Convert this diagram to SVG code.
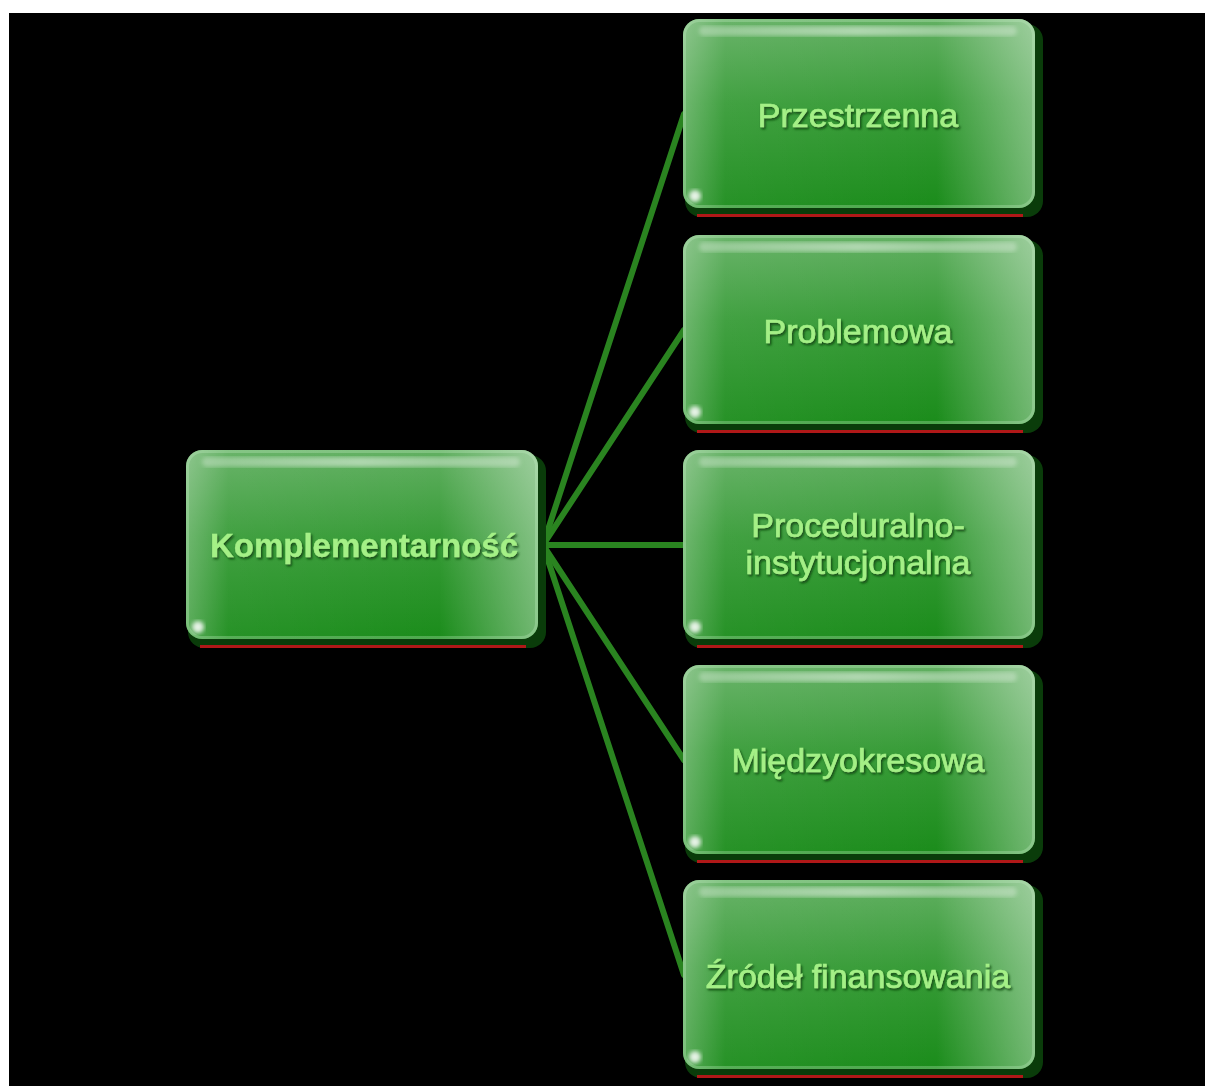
<svg xmlns="http://www.w3.org/2000/svg" width="1205" height="1086" viewBox="0 0 1205 1086">
<defs>
<linearGradient id="gv" x1="0" y1="0" x2="0" y2="1">
<stop offset="0" stop-color="#62b062"/>
<stop offset="0.45" stop-color="#389c38"/>
<stop offset="1" stop-color="#1b8c1b"/>
</linearGradient>
<linearGradient id="gh" x1="0" y1="0" x2="1" y2="0">
<stop offset="0" stop-color="#ffffff" stop-opacity="0.28"/>
<stop offset="0.12" stop-color="#ffffff" stop-opacity="0.05"/>
<stop offset="0.72" stop-color="#ffffff" stop-opacity="0"/>
<stop offset="1" stop-color="#ffffff" stop-opacity="0.38"/>
</linearGradient>
<linearGradient id="gloss" x1="0" y1="0" x2="1" y2="0">
<stop offset="0" stop-color="#ffffff" stop-opacity="0.3"/>
<stop offset="0.5" stop-color="#ffffff" stop-opacity="0.5"/>
<stop offset="1" stop-color="#ffffff" stop-opacity="0.3"/>
</linearGradient>
<filter id="ts" x="-10%" y="-30%" width="120%" height="160%">
<feDropShadow dx="1.5" dy="2" stdDeviation="1" flood-color="#0b3f0b" flood-opacity="0.85"/>
</filter>
<filter id="blur2"><feGaussianBlur stdDeviation="2"/></filter>
<g id="box">
<rect x="2" y="5" width="358" height="193" rx="16" fill="#0a3c0a"/>
<rect x="14" y="195" width="326" height="3" fill="#b01818"/>
<rect x="0" y="0" width="352" height="189" rx="16" fill="url(#gv)"/>
<rect x="0" y="0" width="352" height="189" rx="16" fill="url(#gh)"/>
<rect x="16" y="7" width="318" height="10" rx="5" fill="url(#gloss)" filter="url(#blur2)"/>
<rect x="1.5" y="1.5" width="349" height="186" rx="15" fill="none" stroke="#c8efc8" stroke-opacity="0.3" stroke-width="3"/>
<path d="M347 20 L347 170" stroke="#ffffff" stroke-opacity="0.7" stroke-width="4" filter="url(#blur2)"/>
<circle cx="12" cy="177" r="6" fill="#ffffff" fill-opacity="0.85" filter="url(#blur2)"/>
</g>
</defs>
<style>
.lbl{font-family:"Liberation Sans",Arial,sans-serif;font-size:34px;fill:#a4f086;stroke:#a4f086;stroke-width:0.7;text-anchor:middle;filter:url(#ts)}
.b{font-weight:bold;font-size:33px;stroke-width:0.3}
.con line{stroke:#2a8420;stroke-width:6;stroke-linecap:round}
</style>
<rect x="0" y="0" width="1205" height="1086" fill="#ffffff"/>
<rect x="9" y="13" width="1196" height="1073" fill="#000000"/>
<g id="connectors" class="con">
<line x1="543" y1="545" x2="684" y2="114"/>
<line x1="543" y1="545" x2="684" y2="330"/>
<line x1="543" y1="545" x2="684" y2="545"/>
<line x1="543" y1="545" x2="684" y2="760"/>
<line x1="543" y1="545" x2="684" y2="975"/>
</g>
<g id="n-komplementarnosc">
<use href="#box" x="186" y="450"/>
<text class="lbl b" x="364" y="557">Komplementarność</text>
</g>
<g id="n-przestrzenna">
<use href="#box" x="683" y="19"/>
<text class="lbl" x="858" y="127">Przestrzenna</text>
</g>
<g id="n-problemowa">
<use href="#box" x="683" y="235"/>
<text class="lbl" x="858" y="343">Problemowa</text>
</g>
<g id="n-proceduralno">
<use href="#box" x="683" y="450"/>
<text class="lbl" x="858" y="537">Proceduralno-</text>
<text class="lbl" x="858" y="574">instytucjonalna</text>
</g>
<g id="n-miedzyokresowa">
<use href="#box" x="683" y="665"/>
<text class="lbl" x="858" y="772">Międzyokresowa</text>
</g>
<g id="n-zrodel">
<use href="#box" x="683" y="880"/>
<text class="lbl" x="858" y="988">Źródeł finansowania</text>
</g>
</svg>
